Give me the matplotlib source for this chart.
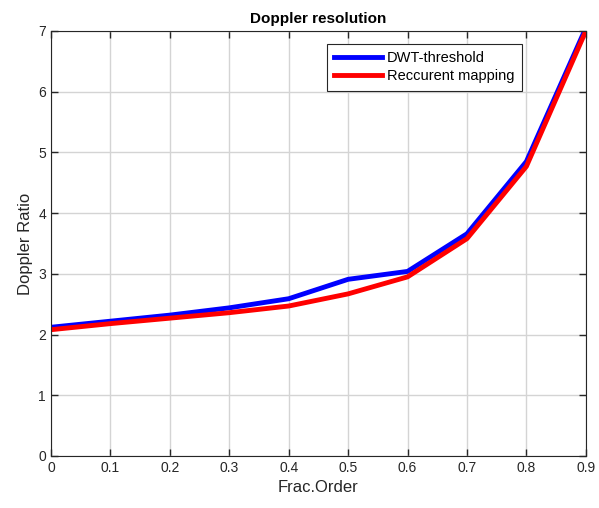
import matplotlib.pyplot as plt

plt.rcParams["font.family"] = ["Liberation Sans", "DejaVu Sans"]

frac_order = [0, 0.1, 0.2, 0.3, 0.4, 0.5, 0.6, 0.7, 0.8, 0.9]
dwt_threshold = [2.12, 2.22, 2.32, 2.44, 2.59, 2.91, 3.04, 3.66, 4.85, 7.05]
recurrent_mapping = [2.08, 2.18, 2.27, 2.36, 2.47, 2.67, 2.95, 3.58, 4.77, 7.0]

fig = plt.figure(figsize=(5.99, 5.08), dpi=100)
ax = fig.add_axes([0.0851, 0.1024, 0.8929, 0.8366])

ax.plot(frac_order, dwt_threshold, color="#0000ff", lw=3.5, label="DWT-threshold")
ax.plot(frac_order, recurrent_mapping, color="#ff0000", lw=3.5, label="Reccurent mapping")

ax.set_xlim(0, 0.9)
ax.set_ylim(0, 7)
ax.set_xticks([0, 0.1, 0.2, 0.3, 0.4, 0.5, 0.6, 0.7, 0.8, 0.9])
ax.set_xticklabels(["0", "0.1", "0.2", "0.3", "0.4", "0.5", "0.6", "0.7", "0.8", "0.9"])
ax.set_yticks(range(8))
ax.grid(True, color="#d4d4d4", lw=1)
ax.set_axisbelow(True)
ax.tick_params(direction="in", top=True, right=True, labelsize=10, length=5, width=1, colors="#262626")
for s in ax.spines.values():
    s.set_color("#262626")

ax.set_title("Doppler resolution", fontsize=11, fontweight="bold", pad=6)
ax.set_xlabel("Frac.Order", fontsize=12, color="#262626")
ax.set_ylabel("Doppler Ratio", fontsize=12, color="#262626")

leg = ax.legend(loc="upper right", bbox_to_anchor=(0.88, 0.97), borderaxespad=0,
                fontsize=10.5, fancybox=False, framealpha=1, edgecolor="#262626",
                handlelength=3.3, borderpad=0.5, labelspacing=0.3, handletextpad=0.3)
leg.get_frame().set_linewidth(0.8)

fig.savefig("out.png", dpi=100)
